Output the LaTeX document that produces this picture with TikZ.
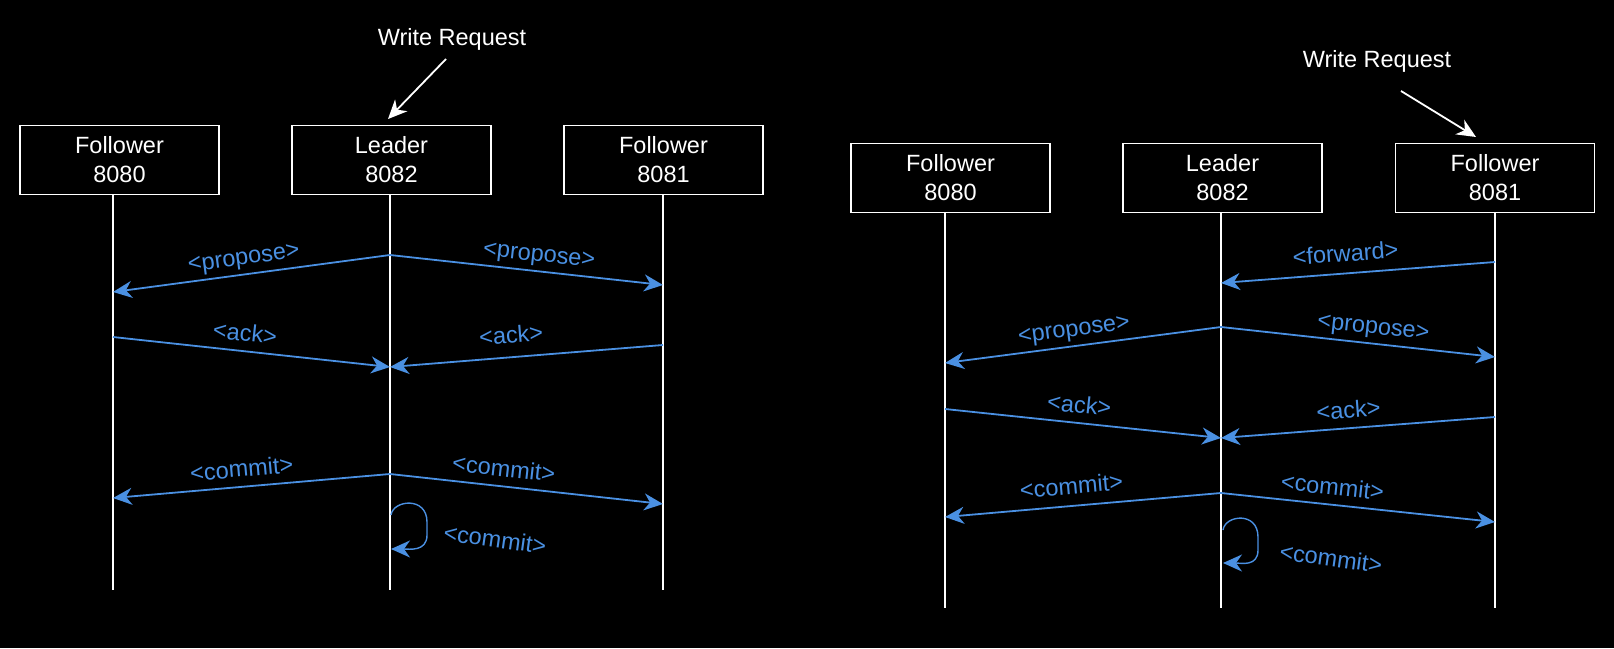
\documentclass[tikz,border=0pt]{standalone}
\usepackage{fontspec}
\setmainfont{Liberation Sans}
\usepackage{xcolor}
\usetikzlibrary{positioning,arrows.meta}
\definecolor{msgblue}{HTML}{4A90E2}

\begin{document}
\begin{tikzpicture}[x=1pt,y=-1pt,
  font=\fontsize{23.5}{29}\selectfont,
  proc/.style={draw=white,line width=1.6pt,minimum width=199pt,minimum height=69pt,align=center,text=white,inner sep=0pt},
  life/.style={draw=white,line width=1.3pt},
  msg/.style={draw=msgblue,line width=1.8pt,-{Stealth[length=19pt,width=17pt,inset=6pt]}},
  lbl/.style={text=msgblue,sloped,above=9pt,inner sep=0pt,text depth=0pt},
  req/.style={draw=white,line width=1.8pt,-{Stealth[length=19pt,width=17pt,inset=6pt]}},
  reqtxt/.style={text=white}]
  \fill[black] (0,0) rectangle (1614,648);
  \useasboundingbox (0,0) rectangle (1614,648);

  \node[proc] (fA) at (119.5,160) {Follower\\8080};
  \node[proc] (lA) at (391.5,160) {Leader\\8082};
  \node[proc] (gA) at (663.5,160) {Follower\\8081};
  \node[reqtxt] (wA) at (452,39) {Write Request};
  \coordinate (wA0) at (446,59);
  \coordinate (wA1) at (388,119);
  \draw[req] (wA0) -- (wA1);

  \coordinate (fAend) at (113,590);
  \coordinate (lAend) at (390,590);
  \coordinate (gAend) at (663,590);
  \draw[life] (fA.south -| fAend) -- (fAend);
  \draw[life] (lA.south -| lAend) -- (lAend);
  \draw[life] (gA.south -| gAend) -- (gAend);

  \coordinate (pA) at (390,255);
  \coordinate (pAf) at (113,292);
  \coordinate (pAg) at (663,285);
  \draw[msg] (pA) -- node[lbl,pos=.52] {<propose>} (pAf);
  \draw[msg] (pA) -- node[lbl,pos=.54] {<propose>} (pAg);
  \coordinate (aAf) at (113,337);
  \coordinate (aAg) at (663,345);
  \coordinate (aA) at (390,367);
  \draw[msg] (aAf) -- node[lbl,pos=.47] {<ack>} (aA);
  \draw[msg] (aAg) -- node[lbl,pos=.55,above=13pt] {<ack>} (aA);
  \coordinate (cA) at (390,474);
  \coordinate (cAf) at (113,498);
  \coordinate (cAg) at (663,504);
  \draw[msg] (cA) -- node[lbl,pos=.53] {<commit>} (cAf);
  \draw[msg] (cA) -- node[lbl,pos=.41] {<commit>} (cAg);
  \coordinate (sA0) at (391,515);
  \coordinate (sA1) at (391,549);
  \draw[msg,line width=1.4pt] (sA0) .. controls +(2,-15) and +(0,-26) .. ++(36,7) -- ++(0,13) .. controls +(0,17) and +(18,0) .. (sA1);
  \node[text=msgblue,rotate=-8,inner sep=0pt] (sAl) at (495,539) {<commit>};

  \node[proc] (fB) at (950.5,178) {Follower\\8080};
  \node[proc] (lB) at (1222.5,178) {Leader\\8082};
  \node[proc] (gB) at (1495,178) {Follower\\8081};
  \node[reqtxt] (wB) at (1377,61) {Write Request};
  \coordinate (wB0) at (1401,91);
  \coordinate (wB1) at (1476,137);
  \draw[req] (wB0) -- (wB1);

  \coordinate (fBend) at (945,608);
  \coordinate (lBend) at (1221,608);
  \coordinate (gBend) at (1495,608);
  \draw[life] (fB.south -| fBend) -- (fBend);
  \draw[life] (lB.south -| lBend) -- (lBend);
  \draw[life] (gB.south -| gBend) -- (gBend);

  \coordinate (fwB) at (1495,262);
  \coordinate (fwBl) at (1221,283);
  \draw[msg] (fwB) -- node[lbl,pos=.54,above=11pt] {<forward>} (fwBl);
  \coordinate (pB) at (1221,327);
  \coordinate (pBf) at (945,363);
  \coordinate (pBg) at (1495,357);
  \draw[msg] (pB) -- node[lbl,pos=.525] {<propose>} (pBf);
  \draw[msg] (pB) -- node[lbl,pos=.55] {<propose>} (pBg);
  \coordinate (aBf) at (945,409);
  \coordinate (aBg) at (1495,417);
  \coordinate (aB) at (1221,438);
  \draw[msg] (aBf) -- node[lbl,pos=.48] {<ack>} (aB);
  \draw[msg] (aBg) -- node[lbl,pos=.53] {<ack>} (aB);
  \coordinate (cB) at (1221,493);
  \coordinate (cBf) at (945,517);
  \coordinate (cBg) at (1495,522);
  \draw[msg] (cB) -- node[lbl,pos=.536,above=11pt] {<commit>} (cBf);
  \draw[msg] (cB) -- node[lbl,pos=.40] {<commit>} (cBg);
  \coordinate (sB0) at (1223,530);
  \coordinate (sB1) at (1223,563);
  \draw[msg,line width=1.4pt] (sB0) .. controls +(2,-15) and +(0,-26) .. ++(35,7) -- ++(0,13) .. controls +(0,17) and +(18,0) .. (sB1);
  \node[text=msgblue,rotate=-8,inner sep=0pt] (sBl) at (1331,558) {<commit>};
\end{tikzpicture}
\end{document}
